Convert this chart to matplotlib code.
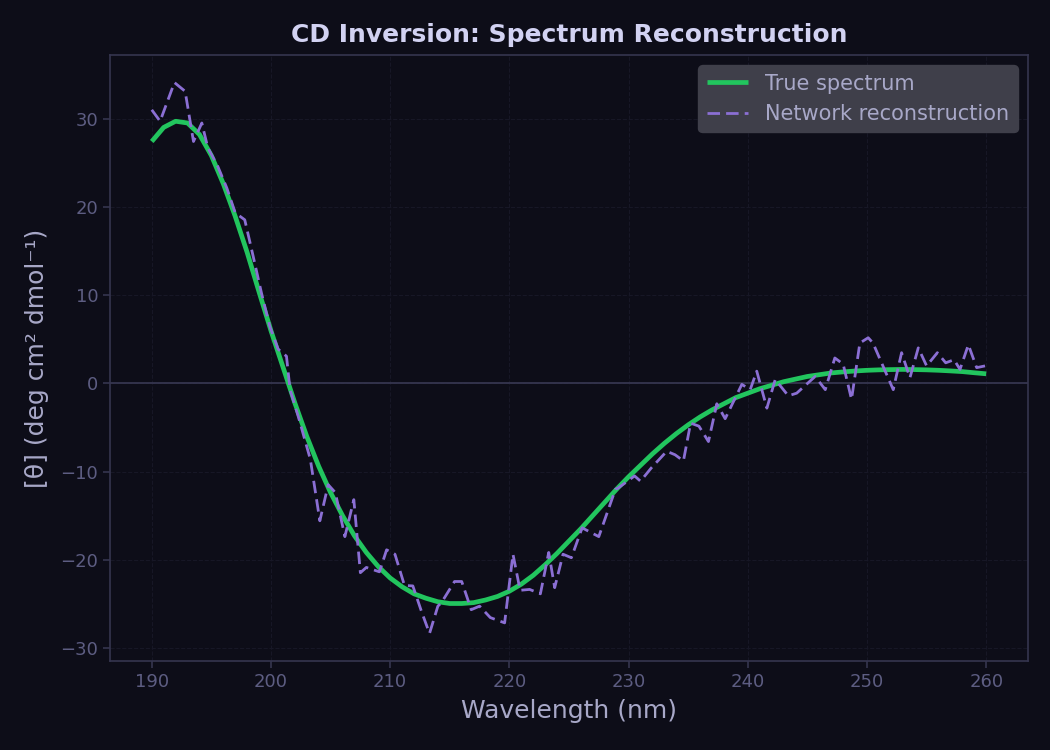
import matplotlib
matplotlib.use("Agg")
import matplotlib.pyplot as plt

# True spectrum (read at 1 nm steps)
true_wl = list(range(190, 261))
true_theta = [27.5, 29.1, 29.8, 29.6, 28.3, 25.9, 22.7, 19.0, 14.9, 10.4,
              6.0, 1.9, -2.2, -6.0, -9.4, -12.4, -15.0, -17.3, -19.2, -20.8,
              -22.1, -23.1, -23.9, -24.4, -24.8, -25.0, -25.0, -24.9, -24.6, -24.2,
              -23.6, -22.8, -21.8, -20.6, -19.3, -17.9, -16.5, -15.0, -13.5, -12.0,
              -10.6, -9.3, -8.0, -6.8, -5.7, -4.7, -3.8, -3.0, -2.3, -1.6,
              -1.1, -0.6, -0.2, 0.2, 0.5, 0.8, 1.0, 1.2, 1.32, 1.42,
              1.5, 1.55, 1.58, 1.6, 1.58, 1.55, 1.5, 1.43, 1.35, 1.22, 1.1]

# Network reconstruction (read vertices)
recon_wl = [190.0, 190.7, 191.9, 192.8, 193.5, 194.2, 194.7, 195.5, 196.3, 197.0,
            197.8, 198.5, 199.2, 199.9, 200.6, 201.3, 201.6, 202.3, 203.3, 204.1,
            204.8, 205.4, 206.2, 206.95, 207.5, 208.0, 209.1, 209.7, 210.4, 211.2,
            211.9, 212.6, 213.3, 214.0, 214.3, 215.4, 216.0, 216.8, 217.5, 218.4,
            219.6, 220.3, 220.9, 221.7, 222.6, 223.3, 223.8, 224.5, 225.2, 226.1,
            227.5, 228.9, 229.1, 230.5, 231.0, 231.9, 233.2, 233.9, 234.6, 235.2,
            235.9, 236.7, 237.4, 238.1, 239.5, 240.2, 240.75, 241.6, 242.3, 243.4,
            244.1, 245.65, 246.5, 247.3, 248.0, 248.7, 249.4, 250.1, 250.5, 252.2,
            252.9, 253.6, 254.3, 255.0, 255.9, 256.6, 257.3, 257.8, 258.5, 259.2,
            259.9]
recon_theta = [31.1, 29.8, 34.2, 33.2, 27.5, 29.6, 26.8, 24.8, 22.2, 19.4,
               18.6, 14.5, 10.3, 6.5, 3.9, 3.1, -0.7, -3.8, -8.6, -15.6,
               -11.5, -12.4, -17.4, -13.2, -21.5, -20.9, -21.4, -18.9, -19.4, -22.95,
               -23.0, -25.8, -28.4, -25.3, -24.9, -22.5, -22.5, -25.7, -25.3, -26.6,
               -27.2, -19.4, -23.5, -23.4, -23.9, -19.2, -23.2, -19.4, -19.8, -16.4,
               -17.4, -12.0, -11.9, -10.5, -11.1, -9.6, -7.7, -8.1, -8.8, -4.5,
               -4.85, -6.6, -2.3, -4.0, -0.1, -0.7, 1.4, -2.8, 0.45, -1.4,
               -1.1, 0.8, -0.7, 2.9, 2.2, -1.8, 4.6, 5.2, 4.6, -0.7,
               3.5, 0.65, 4.05, 2.0, 3.5, 2.35, 2.7, 1.6, 4.4, 1.8,
               2.0]

BG = "#0d0d18"
SPINE = "#35354f"

fig = plt.figure(figsize=(10.5, 7.5), dpi=100, facecolor=BG)
ax = fig.add_axes([0.1048, 0.1187, 0.8742, 0.808])
ax.set_facecolor(BG)

ax.grid(True, color="#171726", linestyle="--", linewidth=0.8)
ax.set_axisbelow(True)
ax.axhline(0, color="#35354f", linewidth=1.3, zorder=1)

ax.plot(true_wl, true_theta, color="#22c55e", linewidth=3.4, label="True spectrum",
        zorder=3, solid_joinstyle="round", solid_capstyle="butt")
ax.plot(recon_wl, recon_theta, color="#8b6fd4", linewidth=2.0, linestyle="--",
        dashes=(4.5, 2.2), label="Network reconstruction", zorder=4)

ax.set_xticks([190, 200, 210, 220, 230, 240, 250, 260])
ax.set_yticks([-30, -20, -10, 0, 10, 20, 30])

for s in ax.spines.values():
    s.set_color(SPINE)
    s.set_linewidth(1.2)
ax.tick_params(colors=SPINE, labelcolor="#5d5d82", labelsize=13, length=5, width=1.2)

ax.set_xlabel("Wavelength (nm)", color="#a8a8c8", fontsize=18, labelpad=6)
ax.set_ylabel("[θ] (deg cm² dmol⁻¹)", color="#a8a8c8", fontsize=18, labelpad=8)
ax.set_title("CD Inversion: Spectrum Reconstruction", color="#d2d2f2", fontsize=18,
             fontweight="bold", pad=9)

leg = ax.legend(loc="upper right", fontsize=15, facecolor="#3f3f4a", edgecolor="#3f3f4a",
                framealpha=1.0, labelcolor="#a8a8c8", handlelength=2.0)

fig.savefig("out.png", dpi=100, facecolor=BG)
